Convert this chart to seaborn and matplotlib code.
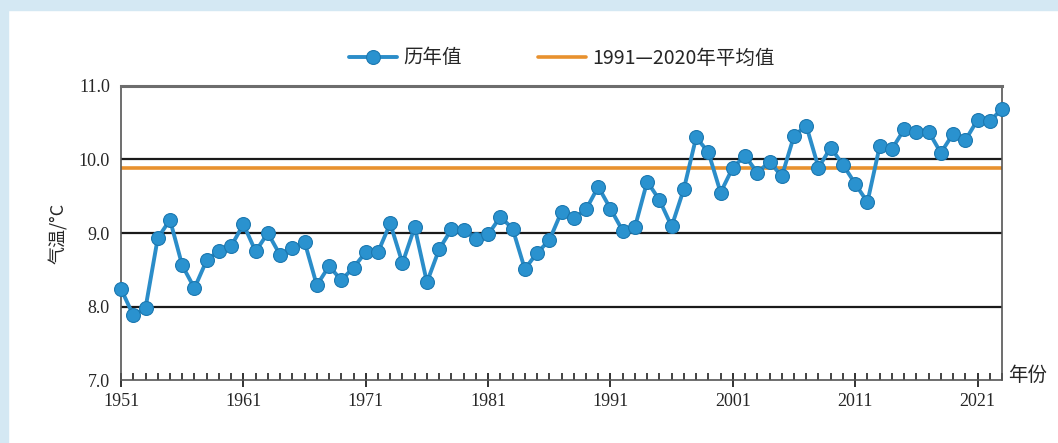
import numpy as np
import pandas as pd
import matplotlib
matplotlib.use('Agg')
import matplotlib.pyplot as plt
import matplotlib.patches as mpatches
from matplotlib.ticker import MultipleLocator
import seaborn as sns

years = list(range(1951, 2024))
temps = [8.24, 7.88, 7.98, 8.93, 9.18, 8.56, 8.25, 8.63, 8.76, 8.82,
         9.12, 8.75, 9.00, 8.70, 8.79, 8.88, 8.29, 8.55, 8.36, 8.53,
         8.74, 8.74, 9.13, 8.59, 9.08, 8.33, 8.78, 9.05, 9.04, 8.92,
         8.98, 9.22, 9.06, 8.51, 8.73, 8.90, 9.29, 9.20, 9.32, 9.63,
         9.33, 9.03, 9.08, 9.70, 9.45, 9.09, 9.60, 10.30, 10.10, 9.55,
         9.89, 10.05, 9.82, 9.97, 9.77, 10.32, 10.46, 9.89, 10.16, 9.93,
         9.67, 9.42, 10.18, 10.14, 10.41, 10.38, 10.38, 10.09, 10.35, 10.26,
         10.54, 10.52, 10.69]
avg_1991_2020 = 9.89
x_tick_labels = ['1951', '1961', '1971', '1981', '1991', '2001', '2011', '2021']
y_ticks = [7.0, 8.0, 9.0, 10.0, 11.0]

df = pd.DataFrame({'year': years, 'temp': temps})

sns.set_style('white')
cjk = ['Noto Sans CJK SC', 'DejaVu Sans']
serif = ['Liberation Serif', 'DejaVu Serif']
plt.rcParams['font.family'] = cjk

fig = plt.figure(figsize=(10.58, 4.43), dpi=100)
fig.patch.set_facecolor('white')
# light blue frame strips on top and left
fig.patches.append(mpatches.Rectangle((0, 0.977), 1, 0.023, transform=fig.transFigure,
                                      color='#d4e8f3', zorder=0))
fig.patches.append(mpatches.Rectangle((0, 0), 0.008, 1, transform=fig.transFigure,
                                      color='#d4e8f3', zorder=0))

ax = fig.add_axes([0.1144, 0.142, 0.8327, 0.664])

for v in [8.0, 9.0, 10.0]:
    ax.axhline(v, color='#1a1a1a', lw=1.6, zorder=1)

ax.axhline(avg_1991_2020, color='#e8912e', lw=2.6, zorder=2, label='1991—2020年平均值')

sns.lineplot(data=df, x='year', y='temp', ax=ax, color='#2b8dc9', lw=2.8,
             marker='o', markersize=10, markerfacecolor='#2a92cf',
             markeredgecolor='#1c78b0', markeredgewidth=0.8, zorder=3,
             label='历年值')
for ln in ax.lines:
    if ln.get_label() == '历年值':
        ln.set_clip_on(False)

ax.set_xlim(1951, 2023)
ax.set_ylim(7.0, 11.0)
ax.set_yticks(y_ticks)
ax.set_yticklabels([f'{v:.1f}' for v in y_ticks], fontfamily=serif, fontsize=13)
ax.set_xticks([int(s) for s in x_tick_labels])
ax.set_xticklabels(x_tick_labels, fontfamily=serif, fontsize=13)
ax.xaxis.set_minor_locator(MultipleLocator(1))
ax.tick_params(axis='x', which='major', direction='inout', length=10, width=1.3,
               color='#222222', bottom=True, pad=4)
ax.tick_params(axis='x', which='minor', direction='in', length=5, width=1.2,
               color='#222222', bottom=True)
ax.tick_params(axis='y', length=0, pad=8)

for side in ['left', 'right', 'bottom']:
    ax.spines[side].set_color('#555555')
    ax.spines[side].set_linewidth(1.2)
ax.spines['top'].set_color('#6d6d6d')
ax.spines['top'].set_linewidth(2.2)

ax.set_xlabel('')
ax.set_ylabel('气温/°C', fontsize=13, labelpad=8)
ax.text(1.007, 0.015, '年份', transform=ax.transAxes, fontsize=14, ha='left', va='center')

handles, labels = ax.get_legend_handles_labels()
order = [labels.index('历年值'), labels.index('1991—2020年平均值')]
leg = ax.legend([handles[i] for i in order], [labels[i] for i in order],
                loc='center', bbox_to_anchor=(0.5, 1.095), ncol=2, frameon=False,
                fontsize=14, columnspacing=3.9, handlelength=2.5, handletextpad=0.3)

fig.savefig('out.png', dpi=100)
